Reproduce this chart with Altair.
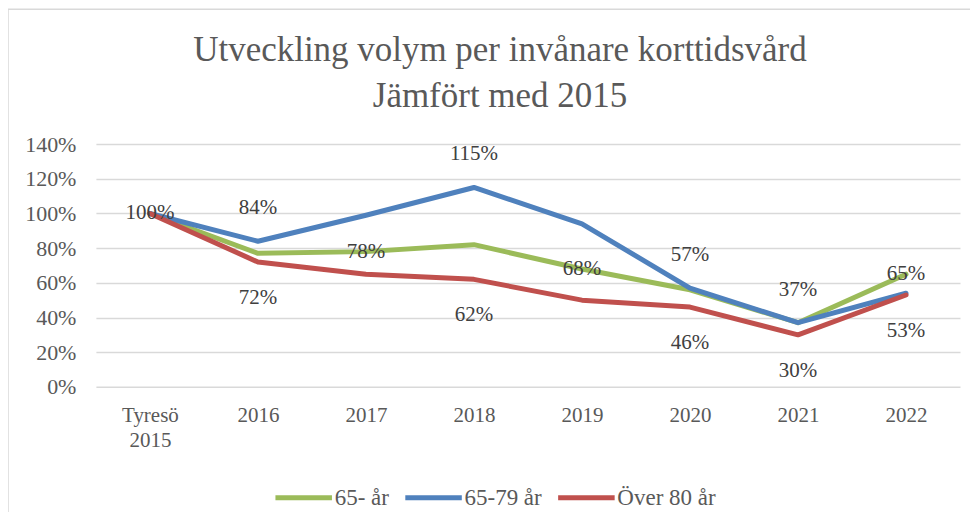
import altair as alt
import pandas as pd

years = ["Tyresö 2015", "2016", "2017", "2018", "2019", "2020", "2021", "2022"]
series_names = ["65- år", "65-79 år", "Över 80 år"]
green_65 = [100, 77, 78, 82, 68, 56, 37, 65]
blue_65_79 = [100, 84, 99, 115, 94, 57, 37, 54]
red_80 = [100, 72, 65, 62, 50, 46, 30, 53]
colors = ["#9BBB59", "#4F81BD", "#C0504D"]

# which points carry a data label (series, year, label text)
label_series = ["65- år", "65- år", "65- år", "65- år",
                "65-79 år", "65-79 år", "65-79 år", "65-79 år",
                "Över 80 år", "Över 80 år", "Över 80 år", "Över 80 år", "Över 80 år"]
label_years = ["Tyresö 2015", "2017", "2019", "2022",
               "2016", "2018", "2020", "2021",
               "2016", "2018", "2020", "2021", "2022"]
label_texts = ["100%", "78%", "68%", "65%",
               "84%", "115%", "57%", "37%",
               "72%", "62%", "46%", "30%", "53%"]

rows = []
for name, vals in zip(series_names, [green_65, blue_65_79, red_80]):
    for i, (y, v) in enumerate(zip(years, vals)):
        rows.append({"serie": name, "year": y, "value": v, "ord": i})
df = pd.DataFrame(rows)

lookup = {(r["serie"], r["year"]): r["value"] for r in rows}
lab = pd.DataFrame({"serie": label_series, "year": label_years, "text": label_texts})
lab["value"] = [lookup[(s, y)] for s, y in zip(lab.serie, lab.year)]

FONT = "Liberation Serif, Times New Roman, serif"
GRAY = "#595959"
FS = 21

x_enc = alt.X("year:N", sort=years, title=None,
              scale=alt.Scale(type="point", padding=0.5),
              axis=alt.Axis(labelAngle=0, domain=False, ticks=False, labelPadding=18,
                            labelExpr="datum.value == 'Tyresö 2015' ? ['Tyresö', '2015'] : datum.value",
                            labelLineHeight=25))
y_enc = alt.Y("value:Q", title=None,
              scale=alt.Scale(domain=[0, 140]),
              axis=alt.Axis(values=[0, 20, 40, 60, 80, 100, 120, 140], domain=False, ticks=False,
                            labelExpr="datum.value + '%'", labelPadding=20, labelOverlap=False,
                            labelFontSize=22,
                            gridColor="#D9D9D9", gridWidth=1.5))

color_enc = alt.Color("serie:N", sort=series_names,
                      scale=alt.Scale(domain=series_names, range=colors),
                      legend=alt.Legend(title=None, orient="none", direction="horizontal",
                                        legendX=177, legendY=323,
                                        symbolType="stroke", symbolStrokeWidth=5,
                                        symbolSize=3200, labelFontSize=23, labelFont=FONT,
                                        labelColor=GRAY, columnPadding=5, labelOffset=0))

lines = alt.Chart(df).mark_line(strokeWidth=5, strokeCap="round", strokeJoin="round").encode(
    x=x_enc, y=y_enc, color=color_enc, detail="serie:N", order="ord:Q")

base_lab = alt.Chart(lab)
def labels(serie, dy):
    return base_lab.transform_filter(alt.datum.serie == serie).mark_text(
        font=FONT, fontSize=FS, color="#404040", dy=dy, baseline="middle").encode(
        x=x_enc, y=y_enc, text="text:N")

border = alt.Chart(pd.DataFrame({"k": [0]})).mark_rule(color="#D9D9D9", strokeWidth=1.5).encode(
    x=alt.value(-88), x2=alt.value(900), y=alt.value(-135))
border2 = alt.Chart(pd.DataFrame({"k": [0]})).mark_rule(color="#D9D9D9", strokeWidth=1.5).encode(
    x=alt.value(-88), y=alt.value(-135), y2=alt.value(400))

chart = alt.layer(
    border, border2, lines,
    labels("65- år", 0), labels("65-79 år", -33), labels("Över 80 år", 36)
).properties(
    width=865, height=243,
    autosize=alt.AutoSizeParams(type="none"),
    padding={"left": 88, "top": 136, "right": 10, "bottom": 125},
    title=alt.Title(["Utveckling volym per invånare korttidsvård", "Jämfört med 2015"],
                    font=FONT, fontSize=35, fontWeight="normal", color=GRAY,
                    lineHeight=46, anchor="middle", frame="group", dx=-28, offset=-106),
).configure(
    font=FONT
).configure_axis(
    labelFont=FONT, labelFontSize=FS, labelColor=GRAY
).configure_view(stroke=None)

chart.save("out.html", embed_options={"renderer": "svg", "actions": False})
